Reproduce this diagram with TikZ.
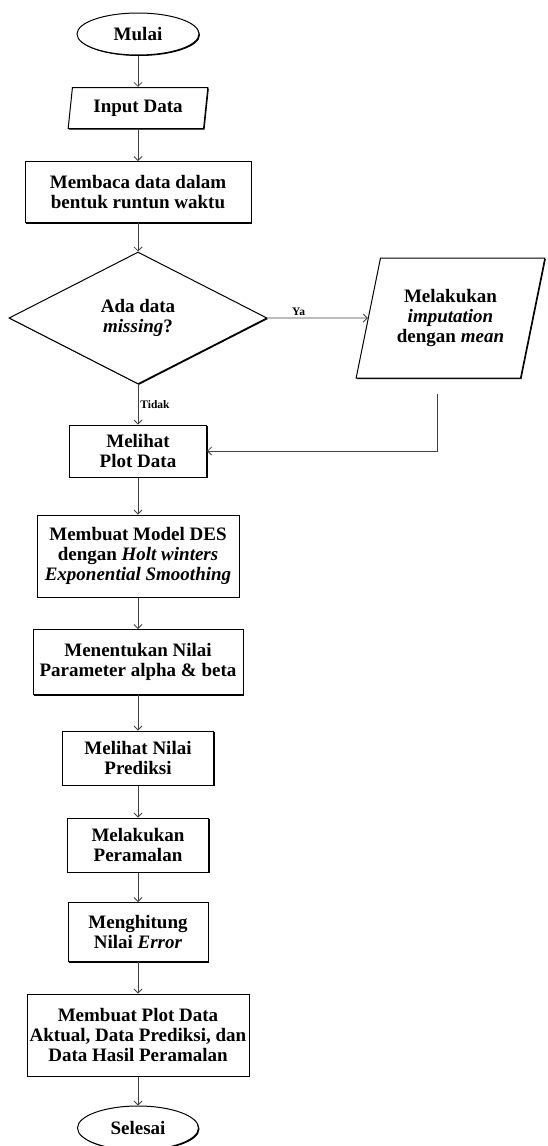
\documentclass[tikz,border=0pt]{standalone}
\usepackage{fontspec}
\setmainfont{Liberation Serif}
\usetikzlibrary{shapes.geometric,shadows,arrows.meta}

\tikzset{
  base/.style={draw, line width=1pt, fill=white, align=center, inner sep=0pt,
    font=\bfseries\fontsize{19}{20}\selectfont,
    drop shadow={shadow xshift=1pt, shadow yshift=-1pt, fill=black, opacity=1}},
  proc/.style={base, rectangle},
  term/.style={base, ellipse},
  io/.style={base, trapezium, trapezium stretches=true},
  decide/.style={base, diamond},
  flow/.style={draw=black!75, line width=0.8pt, -{Straight Barb[length=4pt,width=8pt]}},
  lbl/.style={font=\bfseries\fontsize{11.5}{12}\selectfont, inner sep=2pt}
}

\begin{document}
\begin{tikzpicture}[x=1pt,y=-1pt]
\useasboundingbox (0,0) rectangle (547,1146);
\node[term, minimum width=122pt, minimum height=42pt] (S) at (138,34) {Mulai};
\node[io, trapezium left angle=80, trapezium right angle=100,
  minimum width=140pt, minimum height=41pt] (I) at (138,108) {Input Data};
\node[proc, minimum width=226pt, minimum height=61pt] (R) at (138,192) {Membaca data dalam\\bentuk runtun waktu};
\node[decide, minimum width=258pt, minimum height=132pt] (D) at (138,318) {Ada data\\\textit{missing}?};
\node[io, trapezium left angle=72, trapezium right angle=108,
  minimum width=189pt, minimum height=120pt] (Imp) at (450.5,318) {Melakukan\\\textit{imputation}\\dengan \textit{mean}};
\node[proc, minimum width=137pt, minimum height=52pt] (P) at (138,451) {Melihat\\Plot Data};
\node[proc, minimum width=202pt, minimum height=82pt] (M) at (138,556) {Membuat Model DES\\dengan \textit{Holt winters}\\\textit{Exponential Smoothing}};
\node[proc, minimum width=210pt, minimum height=65pt] (A) at (138,662) {Menentukan Nilai\\Parameter alpha \& beta};
\node[proc, minimum width=151pt, minimum height=54pt] (V) at (138,758) {Melihat Nilai\\Prediksi};
\node[proc, minimum width=141pt, minimum height=54pt] (F) at (138,845) {Melakukan\\Peramalan};
\node[proc, minimum width=140pt, minimum height=59pt] (E) at (138,932) {Menghitung\\Nilai \textit{Error}};
\node[proc, minimum width=222pt, minimum height=82pt] (G) at (138,1035) {Membuat Plot Data\\Aktual, Data Prediksi, dan\\Data Hasil Peramalan};
\node[term, minimum width=121pt, minimum height=44pt] (T) at (138,1128) {Selesai};

\draw[flow] (S) -- (I);
\draw[flow] (I) -- (R);
\draw[flow] (R) -- (D);
\draw[flow] (D) -- node[lbl, pos=0.31, above] {Ya} (Imp);
\draw[flow] (D) -- node[lbl, pos=0.5, right] {Tidak} (P);
\draw[flow, shorten <=15pt] ([xshift=-13.5pt]Imp.south) |- (P.east);
\draw[flow] (P) -- (M);
\draw[flow] (M) -- (A);
\draw[flow] (A) -- (V);
\draw[flow] (V) -- (F);
\draw[flow] (F) -- (E);
\draw[flow] (E) -- (G);
\draw[flow] (G) -- (T);
\end{tikzpicture}
\end{document}
